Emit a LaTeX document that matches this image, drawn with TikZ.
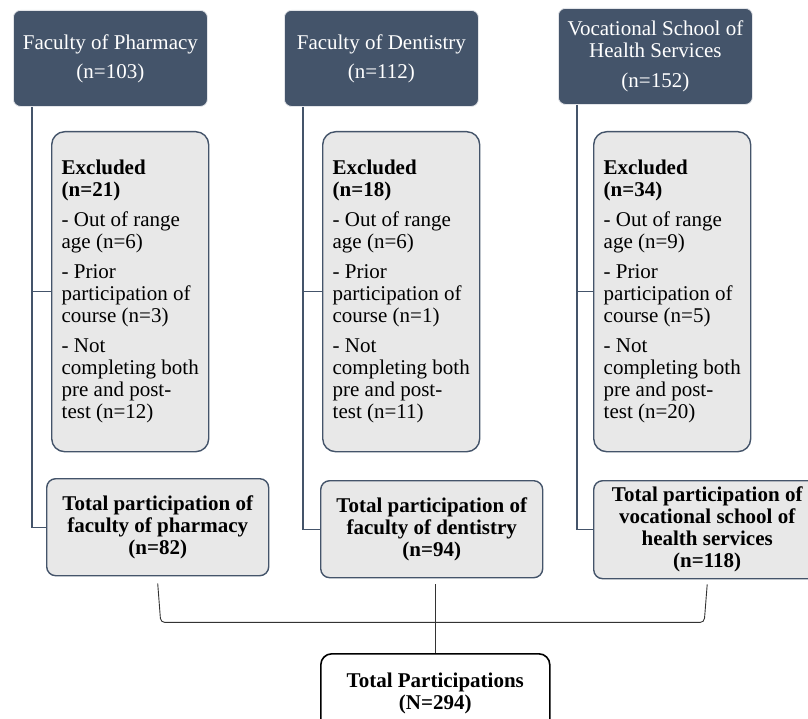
\documentclass[tikz,border=0pt]{standalone}
\usepackage{fontspec}
\setmainfont{Liberation Serif}
\usepackage{xcolor}
\usepackage{tikz}

\definecolor{hdrblue}{HTML}{44546A}
\definecolor{boxgray}{HTML}{E8E8E8}

\begin{document}
\begin{tikzpicture}[x=1bp,y=-1bp,
  hdr/.style={fill=hdrblue, draw=white!85!hdrblue, line width=0.8bp, rounded corners=7bp,
    text=white, align=center, inner sep=0pt, anchor=north west,
    minimum width=194bp, minimum height=96bp, font=\fontsize{21bp}{22bp}\selectfont},
  excl/.style={fill=boxgray, draw=hdrblue, line width=1.4bp, rounded corners=13bp,
    align=left, inner sep=0pt, anchor=north west,
    minimum width=157bp, minimum height=320bp, font=\fontsize{21bp}{22bp}\selectfont},
  tot/.style={fill=boxgray, draw=hdrblue, line width=1.4bp, rounded corners=9bp,
    align=center, inner sep=0pt, anchor=north west,
    minimum height=97bp, font=\fontsize{21bp}{22bp}\selectfont\bfseries},
  link/.style={draw=hdrblue, line width=1.4bp},
  brace/.style={draw=black!80, line width=0.9bp, rounded corners=4bp}]
  \clip (0,0) rectangle (808,719);
  \useasboundingbox (0,0) rectangle (808,719);

  % faculty headers
  \node[hdr] (h1) at (13,10) {Faculty of Pharmacy\\[7bp](n=103)};
  \node[hdr] (h2) at (284,10) {Faculty of Dentistry\\[7bp](n=112)};
  \node[hdr] (h3) at (558,8) {Vocational School of\\Health Services\\[8bp](n=152)};

  % excluded
  \node[excl] (e1) at (51,131) {\textbf{Excluded}\\\textbf{(n=21)}\\[8bp]- Out of range\\age (n=6)\\[8bp]- Prior\\participation of\\course (n=3)\\[8bp]- Not\\completing both\\pre and post-\\test (n=12)};
  \node[excl] (e2) at (322,131) {\textbf{Excluded}\\\textbf{(n=18)}\\[8bp]- Out of range\\age (n=6)\\[8bp]- Prior\\participation of\\course (n=1)\\[8bp]- Not\\completing both\\pre and post-\\test (n=11)};
  \node[excl] (e3) at (593,131) {\textbf{Excluded}\\\textbf{(n=34)}\\[8bp]- Out of range\\age (n=9)\\[8bp]- Prior\\participation of\\course (n=5)\\[8bp]- Not\\completing both\\pre and post-\\test (n=20)};

  % totals per faculty
  \node[tot, minimum width=222bp] (t1) at (46,478) {Total participation of\\faculty of pharmacy\\(n=82)};
  \node[tot, minimum width=222bp] (t2) at (320,480) {Total participation of\\faculty of dentistry\\(n=94)};
  \node[tot, minimum width=227bp, minimum height=98bp] (t3) at (593,480) {Total participation of\\vocational school of\\health services\\(n=118)};

  \node[tot, fill=white, draw=black, line width=1.6bp, rounded corners=11bp,
    minimum width=229bp, minimum height=80bp] (all) at (320,653) {Total Participations\\(N=294)};

  % side lines
  \coordinate (s1) at ([xshift=19bp]h1.south west);
  \coordinate (s2) at ([xshift=19bp]h2.south west);
  \coordinate (s3) at ([xshift=19bp]h3.south west);
  \draw[link] (s1) |- (t1.west);
  \draw[link] (s1 |- e1.west) -- (e1.west);
  \draw[link] (s2) |- (t2.west);
  \draw[link] (s2 |- e2.west) -- (e2.west);
  \draw[link] (s3) |- (t3.west);
  \draw[link] (s3 |- e3.west) -- (e3.west);

  % bracket to the total
  \coordinate (jn) at ([yshift=-44bp]t2.south);
  \coordinate (b1) at ([yshift=-7bp]t1.south);
  \coordinate (b3) at ([yshift=-5bp]t3.south);
  \draw[brace] (b1) -- ([xshift=3bp]b1 |- jn) -- ([xshift=-3bp]b3 |- jn) -- (b3);
  \draw[brace] ([yshift=-6bp]all.north |- t2.south) -- (all.north);
\end{tikzpicture}
\end{document}
